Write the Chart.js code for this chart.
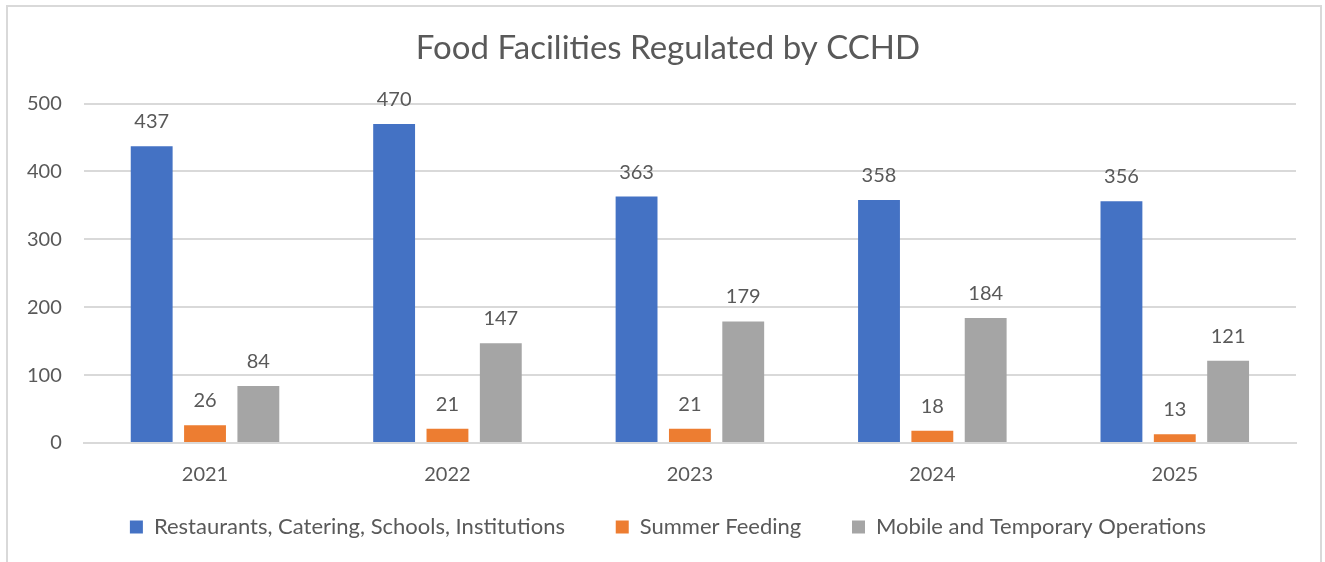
<!DOCTYPE html>
<html>
<head>
<meta charset="utf-8">
<script src="https://cdn.jsdelivr.net/npm/chart.js@4.4.0/dist/chart.umd.min.js"></script>
<style>
  html, body { margin: 0; padding: 0; background: #fff; overflow: hidden; }
  #box {
    position: absolute; left: 6px; top: 5px; width: 1316px; height: 560px;
    border: 2px solid #d9d9d9; border-bottom: none; box-sizing: border-box;
    overflow: hidden;
  }
  #myChart { display: block; }
</style>
</head>
<body>
<div id="box"><canvas id="myChart" width="1312" height="541"></canvas></div>
<script>
const years = ['2021', '2022', '2023', '2024', '2025'];
const restaurants = [437, 470, 363, 358, 356];
const summerFeeding = [26, 21, 21, 18, 13];
const mobileTemp = [84, 147, 179, 184, 121];
const yTicks = [0, 100, 200, 300, 400, 500];

const textColor = '#595959';
const fontFamily = 'Lato, "Open Sans", sans-serif';

// draws the value above each bar (no datalabels plugin available offline)
const valueLabels = {
  id: 'valueLabels',
  afterDatasetsDraw(chart) {
    const ctx = chart.ctx;
    ctx.save();
    ctx.fillStyle = textColor;
    ctx.font = '20px ' + fontFamily;
    ctx.textAlign = 'center';
    ctx.textBaseline = 'alphabetic';
    chart.data.datasets.forEach((ds, i) => {
      chart.getDatasetMeta(i).data.forEach((bar, j) => {
        ctx.fillText(ds.data[j], bar.x, bar.y - 18);
      });
    });
    ctx.restore();
  }
};

const ctx = document.getElementById('myChart').getContext('2d');
const myChart = new Chart(ctx, {
  type: 'bar',
  data: {
    labels: years,
    datasets: [
      { label: 'Restaurants, Catering, Schools, Institutions', data: restaurants, backgroundColor: '#4472c4' },
      { label: 'Summer Feeding', data: summerFeeding, backgroundColor: '#ed7d31' },
      { label: 'Mobile and Temporary Operations', data: mobileTemp, backgroundColor: '#a5a5a5' },
    ],
  },
  options: {
    responsive: false,
    animation: false,
    categoryPercentage: 0.66,
    barPercentage: 0.785,
    layout: { padding: { left: -3, right: -11, top: 8, bottom: 0 } },
    plugins: {
      title: {
        display: true,
        text: 'Food Facilities Regulated by CCHD',
        color: textColor,
        font: { family: fontFamily, size: 33, weight: 'normal' },
        padding: { top: 14, bottom: 35 },
      },
      legend: {
        position: 'bottom',
        labels: {
          color: textColor,
          font: { family: fontFamily, size: 22 },
          boxWidth: 13,
          boxHeight: 13,
          padding: 17,
          // trailing spaces widen the gap between items without more vertical padding
          generateLabels: chart => Chart.defaults.plugins.legend.labels.generateLabels(chart)
            .map((item, i, all) => ({ ...item, text: i < all.length - 1 ? item.text + '      ' : item.text })),
        },
      },
      tooltip: { enabled: false },
    },
    scales: {
      x: {
        grid: { display: false },
        border: { color: '#d9d9d9', width: 2 },
        ticks: { color: textColor, font: { family: fontFamily, size: 20 }, padding: 12 },
      },
      y: {
        min: 0,
        max: 500,
        afterBuildTicks: axis => { axis.ticks = yTicks.map(v => ({ value: v })); },
        grid: { color: '#d9d9d9', lineWidth: 2, drawTicks: false },
        border: { display: false },
        ticks: { color: textColor, font: { family: fontFamily, size: 20 }, padding: 22 },
      },
      // empty right-hand axis, only reserves space so the plot ends where the original does
      spacer: {
        position: 'right',
        grid: { display: false },
        border: { display: false },
        ticks: { display: false },
        afterFit: axis => { axis.width = 35; },
      },
    },
  },
  plugins: [valueLabels],
});
</script>
</body>
</html>
